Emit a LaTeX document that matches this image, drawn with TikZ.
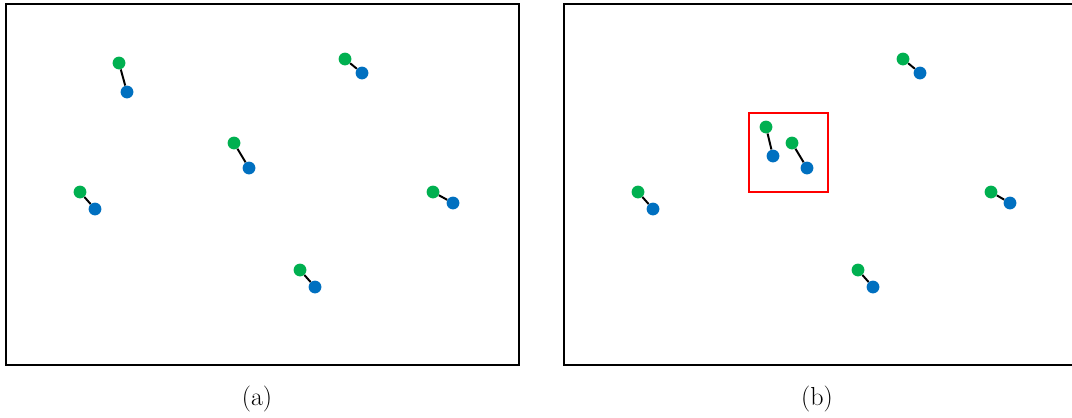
\documentclass[tikz,border=0pt]{standalone}
\usepackage{xcolor}
\usepackage{tikz}
\usetikzlibrary{positioning}
\definecolor{headgreen}{RGB}{0,176,80}
\definecolor{tailblue}{RGB}{0,112,192}

\begin{document}
\begin{tikzpicture}[
  x=0.025cm, y=-0.025cm,
  every node/.style={font=\fontsize{18.5}{22}\selectfont},
  frame/.style={draw=black, line width=0.9pt},
  headdot/.style={circle, fill=headgreen, inner sep=0pt, minimum size=0.32cm},
  taildot/.style={circle, fill=tailblue, inner sep=0pt, minimum size=0.32cm},
  bond/.style={draw=black, line width=1.4pt}
]
  \useasboundingbox (0,0) rectangle (1072,417);

  % Panel frames
  \draw[frame] (6,4) rectangle (519,365);
  \draw[frame] (564,4) rectangle (1077,365);

  % Panel (a) pairs
  \node[headdot] (ah1) at (119,63) {};  \node[taildot] (at1) at (127,92) {};
  \node[headdot] (ah2) at (345,59) {};  \node[taildot] (at2) at (362,73) {};
  \node[headdot] (ah3) at (234,143) {}; \node[taildot] (at3) at (249,168) {};
  \node[headdot] (ah4) at (80,192) {};  \node[taildot] (at4) at (95,209) {};
  \node[headdot] (ah5) at (433,192) {}; \node[taildot] (at5) at (453,203) {};
  \node[headdot] (ah6) at (300,270) {}; \node[taildot] (at6) at (315,287) {};

  % Panel (b) pairs (first one moved next to the third)
  \node[headdot] (bh1) at (766,127) {}; \node[taildot] (bt1) at (773,156) {};
  \node[headdot] (bh2) at (903,59) {};  \node[taildot] (bt2) at (920,73) {};
  \node[headdot] (bh3) at (792,143) {}; \node[taildot] (bt3) at (807,168) {};
  \node[headdot] (bh4) at (638,192) {}; \node[taildot] (bt4) at (653,209) {};
  \node[headdot] (bh5) at (991,192) {}; \node[taildot] (bt5) at (1010,203) {};
  \node[headdot] (bh6) at (858,270) {}; \node[taildot] (bt6) at (873,287) {};

  % Bonds between each pair
  \foreach \p in {a,b}{
    \foreach \i in {1,...,6}{
      \draw[bond] (\p h\i) -- (\p t\i);
    }
  }

  % Close pair highlight
  \draw[red, line width=0.8pt] (749,113) rectangle (828,192);

  % Captions
  \node (capa) at (257,399) {(a)};
  \node (capb) at (817,399) {(b)};
\end{tikzpicture}
\end{document}
